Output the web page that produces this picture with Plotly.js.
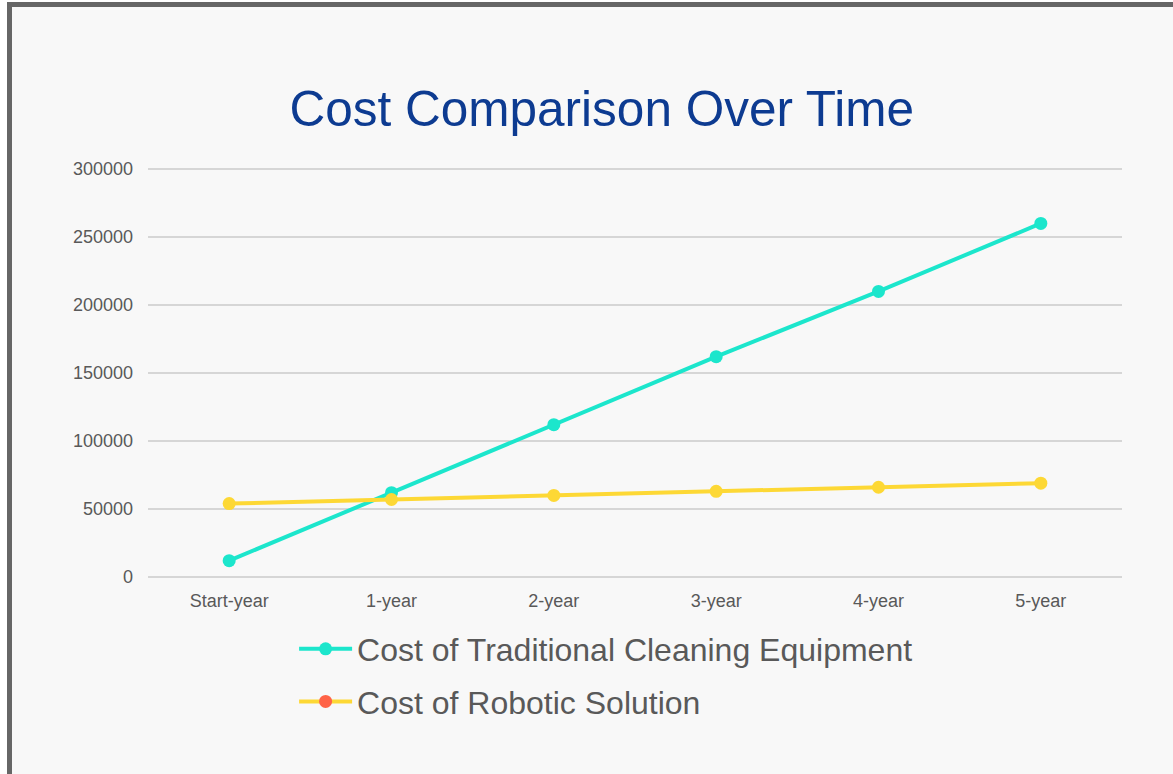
<!DOCTYPE html>
<html>
<head>
<meta charset="utf-8">
<script src="https://cdn.plot.ly/plotly-3.0.1.min.js"></script>
<style>
  html, body { margin: 0; padding: 0; background: #ffffff; overflow: hidden; }
  #chart { position: absolute; left: 0; top: 0; width: 1173px; height: 774px; }
</style>
</head>
<body>
<div id="chart"></div>
<script>
const categories = ["Start-year", "1-year", "2-year", "3-year", "4-year", "5-year"];
const traditionalCost = [12000, 62000, 112000, 162000, 210000, 260000];
const roboticCost = [54000, 57000, 60000, 63000, 66000, 69000];
const seriesNames = ["Cost of Traditional Cleaning Equipment", "Cost of Robotic Solution"];
const yTicks = [0, 50000, 100000, 150000, 200000, 250000, 300000];

const teal = "#1ce6cc";
const yellow = "#fdd835";
const red = "#ff6347";

const traces = [
  { x: categories, y: traditionalCost, type: "scatter", mode: "lines+markers",
    line: { color: teal, width: 4 }, marker: { color: teal, size: 13 }, showlegend: false, hoverinfo: "skip" },
  { x: categories, y: roboticCost, type: "scatter", mode: "lines+markers",
    line: { color: yellow, width: 4 }, marker: { color: yellow, size: 13 }, showlegend: false, hoverinfo: "skip" },
  { x: [null], y: [null], type: "scatter", mode: "lines+markers", name: seriesNames[0], legendgroup: "a",
    line: { color: teal, width: 4 }, marker: { color: teal, size: 13 } },
  { x: [null], y: [null], type: "scatter", mode: "lines+markers", name: seriesNames[1], legendgroup: "b",
    line: { color: yellow, width: 4 }, marker: { color: red, size: 13 } }
];

const layout = {
  width: 1173, height: 774,
  paper_bgcolor: "#f8f8f8", plot_bgcolor: "#f8f8f8",
  font: { family: "Liberation Sans, Arial, sans-serif", color: "#595959" },
  margin: { l: 148, r: 51, t: 165, b: 197 },
  title: { text: "Cost Comparison Over Time", font: { size: 49.5, color: "#0d3b91" },
           x: 0.513, xanchor: "center", y: 0.86, yanchor: "middle" },
  xaxis: { type: "category", categoryorder: "array", categoryarray: categories,
           range: [-0.5, 5.5], showgrid: false, zeroline: false, showline: false,
           ticks: "", tickfont: { size: 18, color: "#595959" }, ticklabelstandoff: 11 },
  yaxis: { range: [0, 302941], tickvals: yTicks, tickformat: "d",
           showgrid: true, gridcolor: "#d6d6d6", gridwidth: 1.5, zeroline: true, zerolinecolor: "#d6d6d6", zerolinewidth: 1.5,
           showline: false, ticks: "", tickfont: { size: 18, color: "#595959" }, ticklabelstandoff: 14 },
  legend: { orientation: "v", x: 0.15, xanchor: "left", y: -0.108, yanchor: "top", traceorder: "grouped",
            font: { size: 32, color: "#595959" }, bgcolor: "rgba(0,0,0,0)", tracegroupgap: 8, itemwidth: 53 },
  showlegend: true
};

Plotly.newPlot("chart", traces, layout, { displayModeBar: false, staticPlot: true });
</script>
<div style="position:absolute;left:0;top:0;width:1173px;height:2px;background:#fff;pointer-events:none;"></div>
<div style="position:absolute;left:0;top:0;width:7px;height:774px;background:#fff;pointer-events:none;"></div>
<div style="position:absolute;left:7px;top:2px;width:1166px;height:5px;background:#666;pointer-events:none;"></div>
<div style="position:absolute;left:7px;top:2px;width:5px;height:772px;background:#666;pointer-events:none;"></div>
</body>
</html>
